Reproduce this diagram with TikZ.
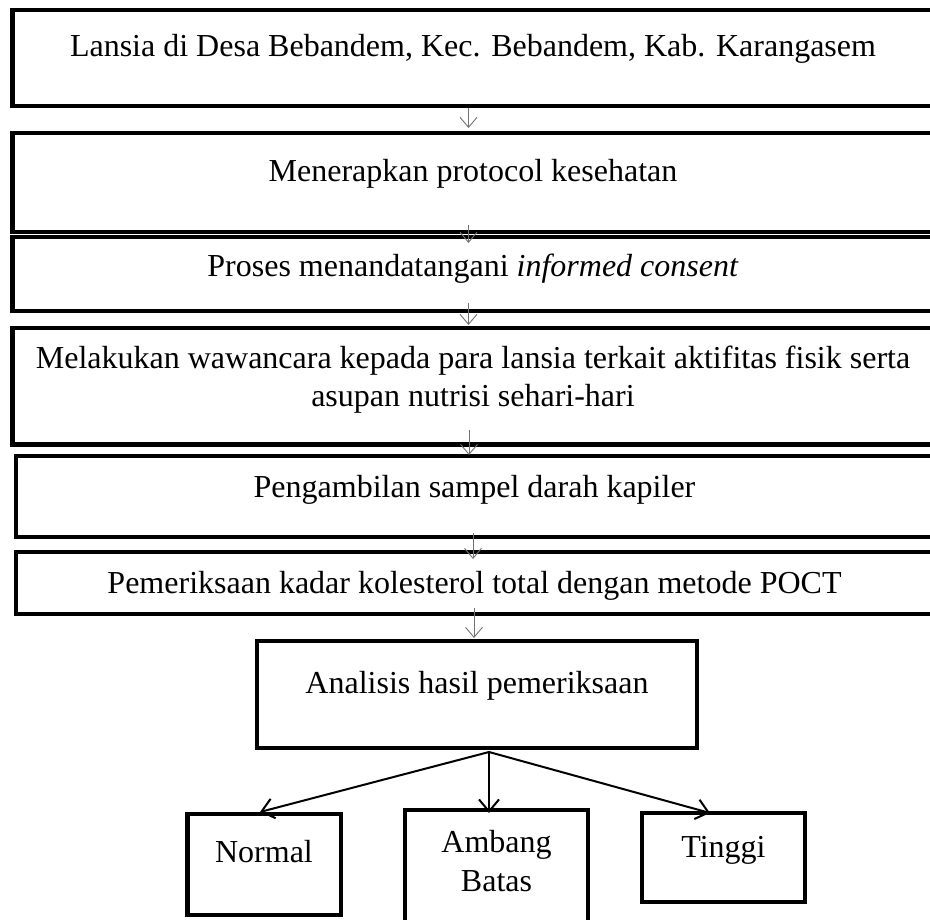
\documentclass[tikz,border=0pt]{standalone}
\usepackage{fontspec}
\setmainfont{Liberation Serif}
\usetikzlibrary{arrows.meta}
\tikzset{
  box/.style={draw=black, line width=4.5pt, fill=none, inner sep=0pt, outer sep=0pt,
    text height=22pt, font=\fontsize{32}{39}\selectfont, align=center},
  thinarr/.style={draw=black!55, line width=0.9pt, -{Straight Barb[length=10pt,width=17pt]}},
  fanarr/.style={draw=black, line width=2pt, -{Straight Barb[length=12pt,width=20pt]}},
}
\begin{document}
\begin{tikzpicture}[x=1pt,y=-1pt]
\useasboundingbox (0,0) rectangle (930,920);
\clip (0,0) rectangle (930,920);
\fill[white] (0,0) rectangle (930,920);
% main chain (right edges run past the picture's edge, as in the reference)
\node[box, minimum width=921pt, minimum height=96pt, text depth=24pt] (b1) at (473,58)
  {Lansia di Desa Bebandem, Kec. Bebandem, Kab. Karangasem};
\node[box, minimum width=921pt, minimum height=99pt, text depth=23pt] (b2) at (473,182.5)
  {Menerapkan protocol kesehatan};
\node[box, minimum width=921pt, minimum height=74pt, text depth=16pt] (b3) at (473,274)
  {Proses menandatangani \textit{informed consent}};
\node[box, minimum width=921pt, minimum height=116.5pt, text depth=58.5pt] (b4) at (473,386.25)
  {\begin{tabular}[t]{@{}c@{}}Melakukan wawancara kepada para lansia terkait aktifitas fisik serta\\ asupan nutrisi sehari-hari\end{tabular}};
\node[box, minimum width=917pt, minimum height=81pt, text depth=21pt] (b5) at (474.5,496.5)
  {Pengambilan sampel darah kapiler};
\node[box, minimum width=917pt, minimum height=62pt, text depth=2pt] (b6) at (474.5,583)
  {Pemeriksaan kadar kolesterol total dengan metode POCT};
\node[box, minimum width=440pt, minimum height=107pt, text depth=25pt] (b7) at (477,694.5)
  {Analisis hasil pemeriksaan};
% outcome boxes
\node[box, minimum width=153.5pt, minimum height=101pt, text depth=27pt] (nrm) at (264,864.5)
  {Normal};
\node[box, minimum width=183pt, minimum height=120pt, text depth=58pt] (amb) at (496.5,870)
  {\begin{tabular}[t]{@{}c@{}}Ambang\\ Batas\end{tabular}};
\node[box, minimum width=163pt, minimum height=89pt, text depth=23pt] (tgi) at (723.5,857.5)
  {Tinggi};
% thin arrows
\draw[thinarr] ([xshift=-4.5pt,yshift=-2pt]b1.south) -- ([xshift=-4.5pt,yshift=5pt]b2.north);
\draw[thinarr] ([xshift=-4.5pt,yshift=7pt]b2.south) -- ([xshift=-4.5pt,yshift=-6pt]b3.north);
\draw[thinarr] ([xshift=-4.5pt,yshift=8pt]b3.south) -- ([xshift=-4.5pt,yshift=3pt]b4.north);
\draw[thinarr] ([xshift=-4pt,yshift=14.5pt]b4.south) -- ([xshift=-5.5pt,yshift=1pt]b5.north);
\draw[thinarr] ([xshift=-1.5pt,yshift=4pt]b5.south) -- ([xshift=-1.5pt,yshift=-7pt]b6.north);
\draw[thinarr] ([xshift=-0.5pt,yshift=6pt]b6.south) -- ([xshift=-3pt,yshift=3pt]b7.north);
% fan arrows
\coordinate (fan) at ([xshift=12pt,yshift=-4pt]b7.south);
\draw[fanarr] (fan) -- ([xshift=-4pt,yshift=2pt]nrm.north);
\draw[fanarr] (fan) -- ([xshift=-7.5pt,yshift=-3pt]amb.north);
\draw[fanarr] (fan) -- ([xshift=-13.5pt]tgi.north);
\end{tikzpicture}
\end{document}
